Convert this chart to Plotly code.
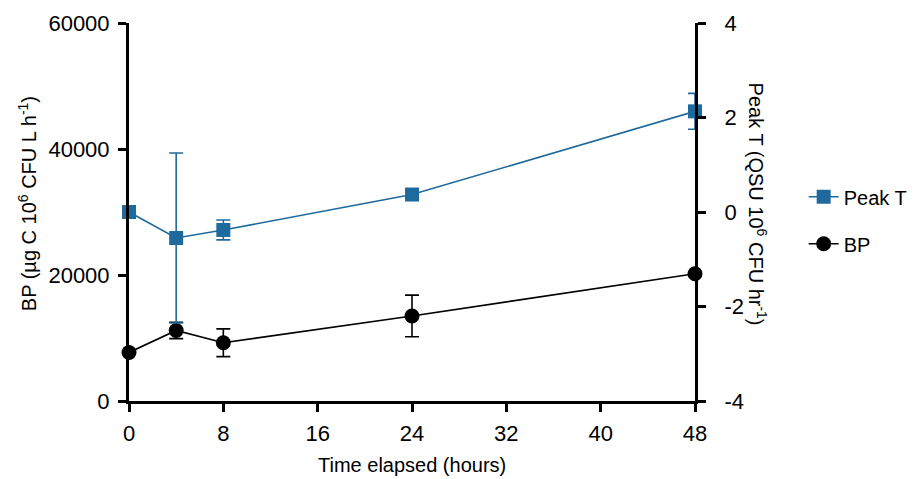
import plotly.graph_objects as go

time_h = [0, 4, 8, 24, 48]
bp_values = [7700, 11200, 9250, 13500, 20200]
bp_err = [0, 1300, 2200, 3300, 0]
peakt_values = [0.0, -0.55, -0.38, 0.37, 2.13]
peakt_err = [0, 1.8, 0.21, 0.05, 0.38]
x_ticks = [0, 8, 16, 24, 32, 40, 48]
left_ticks = [0, 20000, 40000, 60000]
left_labels = ["0", "20000", "40000", "60000"]
right_ticks = [-4, -2, 0, 2, 4]
right_labels = ["-4", "-2", "0", "2", "4"]

BLUE = "#1f6a9c"
FONT = "Arial, Liberation Sans, sans-serif"

fig = go.Figure()
fig.add_trace(go.Scatter(
    x=time_h, y=peakt_values, name="Peak T", yaxis="y2",
    mode="lines+markers", legendgroup="a",
    line=dict(color=BLUE, width=1.6),
    marker=dict(symbol="square", size=14, color=BLUE),
    error_y=dict(type="data", array=peakt_err, color=BLUE, thickness=1.6, width=7),
    cliponaxis=False,
))
fig.add_trace(go.Scatter(
    x=time_h, y=bp_values, name="BP", yaxis="y",
    mode="lines+markers", legendgroup="b",
    line=dict(color="black", width=1.6),
    marker=dict(symbol="circle", size=15, color="black"),
    error_y=dict(type="data", array=bp_err, color="black", thickness=1.6, width=7),
    cliponaxis=False,
))

axis_common = dict(
    showline=True, linecolor="black", linewidth=3,
    ticks="outside", ticklen=8, tickwidth=3, tickcolor="black",
    showgrid=False, zeroline=False,
    tickfont=dict(size=22, color="black", family=FONT),
)

fig.update_layout(
    width=912, height=471,
    margin=dict(l=121, r=225, t=15, b=78, autoexpand=False),
    paper_bgcolor="white", plot_bgcolor="white",
    font=dict(family=FONT, color="black"),
    xaxis=dict(range=[0, 48], tickvals=x_ticks, ticktext=[str(v) for v in x_ticks],
               ticklabelstandoff=3, **axis_common),
    yaxis=dict(range=[0, 60000], tickvals=left_ticks, ticktext=left_labels,
               ticklabelstandoff=4, **axis_common),
    yaxis2=dict(range=[-4, 4], tickvals=right_ticks, ticktext=right_labels, overlaying="y",
                side="right", anchor="x", ticklabelstandoff=14, **axis_common),
    legend=dict(x=1.192, xanchor="left", y=0.478, yanchor="middle",
                font=dict(size=20, color="black"), tracegroupgap=18,
                traceorder="grouped", bgcolor="rgba(0,0,0,0)"),
    annotations=[
        dict(text="BP (µg C 10<sup>6</sup> CFU L h<sup>-1</sup>)", xref="paper", yref="paper",
             x=-0.18, y=0.521, xanchor="center", yanchor="middle",
             textangle=-90, showarrow=False, font=dict(size=20)),
        dict(text="Peak T (QSU 10<sup>6</sup> CFU hr<sup>-1</sup>)", xref="paper", yref="paper",
             x=1.111, y=0.52, xanchor="center", yanchor="middle",
             textangle=90, showarrow=False, font=dict(size=20)),
        dict(text="Time elapsed (hours)", xref="paper", yref="paper",
             x=0.5, y=-0.169, xanchor="center", yanchor="middle",
             showarrow=False, font=dict(size=20)),
    ],
)

fig.write_html("out.html")
